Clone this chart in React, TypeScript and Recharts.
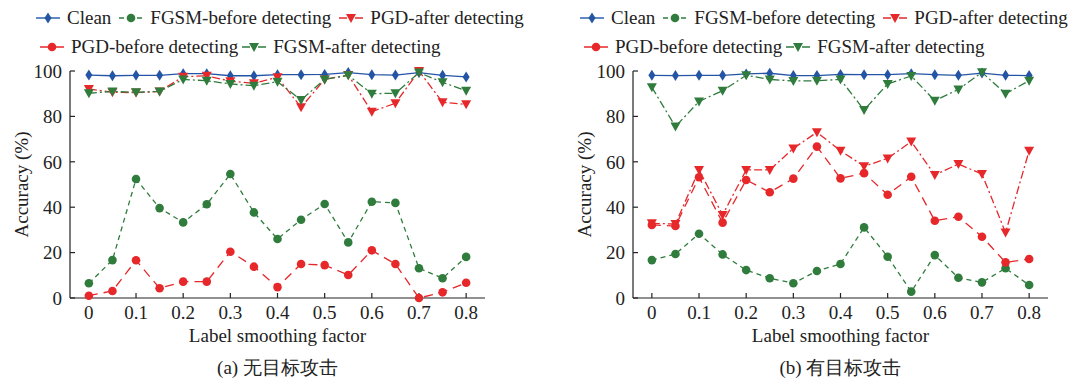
import React from "react";
import { Legend, Line, LineChart, XAxis, YAxis } from "recharts";

const factors = [0, 0.05, 0.1, 0.15, 0.2, 0.25, 0.3, 0.35, 0.4, 0.45, 0.5, 0.55, 0.6, 0.65, 0.7, 0.75, 0.8];
const xTicks = [0, 0.1, 0.2, 0.3, 0.4, 0.5, 0.6, 0.7, 0.8];
const yTicks = [0, 20, 40, 60, 80, 100];

// (a) untargeted attack
const cleanA = [98.2, 97.9, 98.1, 98.1, 98.8, 98.8, 97.9, 97.9, 98.4, 98.4, 98.5, 99.3, 98.4, 98.2, 99.3, 98.1, 97.4];
const fgsmBeforeA = [6.5, 16.7, 52.4, 39.6, 33.3, 41.3, 54.6, 37.7, 26.0, 34.5, 41.4, 24.5, 42.4, 41.9, 13.1, 8.7, 18.1];
const pgdAfterA = [92.1, 90.6, 90.5, 91.0, 97.5, 97.9, 95.5, 94.6, 97.2, 84.0, 96.3, 98.2, 82.1, 85.8, 100, 86.2, 85.3];
const pgdBeforeA = [1.0, 3.1, 16.6, 4.3, 7.2, 7.2, 20.4, 13.8, 4.8, 15.0, 14.5, 10.1, 21.0, 15.0, 0.0, 2.5, 6.7];
const fgsmAfterA = [90.2, 91.0, 90.6, 91.0, 96.3, 95.7, 94.3, 93.5, 95.3, 87.2, 96.3, 98.1, 90.0, 90.2, 99.3, 95.0, 91.3];

// (b) targeted attack
const cleanB = [98.1, 98.0, 98.1, 98.1, 98.7, 99.0, 98.0, 98.0, 98.5, 98.4, 98.4, 98.8, 98.4, 98.1, 99.1, 98.1, 98.0];
const fgsmBeforeB = [16.7, 19.4, 28.3, 19.2, 12.3, 8.7, 6.5, 11.9, 15.0, 31.1, 18.2, 2.8, 18.9, 8.9, 6.9, 13.1, 5.7];
const pgdAfterB = [32.9, 32.6, 56.4, 36.6, 56.4, 56.4, 65.9, 73.0, 64.9, 58.0, 61.5, 68.9, 54.2, 59.0, 54.6, 28.8, 64.9];
const pgdBeforeB = [32.2, 31.7, 53.2, 33.2, 52.0, 46.6, 52.6, 66.7, 52.7, 55.0, 45.5, 53.4, 34.0, 35.8, 27.0, 15.7, 17.2];
const fgsmAfterB = [92.8, 75.5, 86.6, 91.3, 98.1, 96.3, 95.6, 95.7, 96.3, 82.8, 94.3, 97.8, 86.9, 91.9, 99.4, 90.0, 95.7];

const BLUE = "#2455a5";
const GREEN = "#2f7c3d";
const RED = "#e6282b";
const INK = "#222";
const FONT = "'Liberation Serif', 'DejaVu Serif', 'Noto Serif', serif";

const series = [
  { key: "clean", name: "Clean", color: BLUE, dash: undefined, shape: "diamond" },
  { key: "fgsmBefore", name: "FGSM-before detecting", color: GREEN, dash: "5 4", shape: "circle" },
  { key: "pgdAfter", name: "PGD-after detecting", color: RED, dash: "8 3 2 3", shape: "triangle" },
  { key: "pgdBefore", name: "PGD-before detecting", color: RED, dash: "9 6", shape: "circle" },
  { key: "fgsmAfter", name: "FGSM-after detecting", color: GREEN, dash: "8 3 2 3", shape: "triangle" },
];

const legendRows = [
  ["clean", "fgsmBefore", "pgdAfter"],
  ["pgdBefore", "fgsmAfter"],
];

function Marker({ shape, cx, cy, color }: any) {
  if (cx == null || cy == null) return null;
  if (shape === "circle") return <circle cx={cx} cy={cy} r={4.3} fill={color} />;
  if (shape === "triangle")
    return <path d={`M${cx - 5},${cy - 4}L${cx + 5},${cy - 4}L${cx},${cy + 5}Z`} fill={color} />;
  return <path d={`M${cx},${cy - 5.5}L${cx + 3.5},${cy}L${cx},${cy + 5.5}L${cx - 3.5},${cy}Z`} fill={color} />;
}

function LegendIcon({ s }: any) {
  return (
    <svg width={24} height={14} style={{ marginRight: 7, flex: "none" }}>
      <line x1={0} y1={7} x2={24} y2={7} stroke={s.color} strokeWidth={1.4} strokeDasharray={s.dash} />
      <Marker shape={s.shape} cx={12} cy={7} color={s.color} />
    </svg>
  );
}

function renderLegend(props: any) {
  const payload = props.payload || [];
  return (
    <div style={{ fontFamily: FONT, fontSize: 19, color: INK, lineHeight: "22px" }}>
      {legendRows.map((row, r) => (
        <div key={r} style={{ display: "flex", alignItems: "center", gap: r === 0 ? 8 : 4, marginTop: r === 0 ? 0 : 7, paddingLeft: r === 0 ? 0 : 4 }}>
          {row.map((k) => {
            const s = series.find((x) => x.key === k)!;
            const entry = payload.find((p: any) => p.dataKey === k);
            return (
              <div key={k} style={{ display: "flex", alignItems: "center", whiteSpace: "nowrap" }}>
                <LegendIcon s={s} />
                <span>{entry ? entry.value : s.name}</span>
              </div>
            );
          })}
        </div>
      ))}
    </div>
  );
}

const tickStyle = { fill: INK, fontSize: 19, fontFamily: FONT };
const axisStroke = { stroke: INK, strokeWidth: 1.2 };

function Panel({ left, legendLeft, caption, values }: any) {
  const data = factors.map((f, i) => {
    const row: any = { f };
    series.forEach((s) => {
      row[s.key] = values[s.key][i];
    });
    return row;
  });

  return (
    <div style={{ position: "absolute", left, top: 0, width: 527, height: 381 }}>
      <LineChart width={527} height={381} data={data} margin={{ top: 71, right: 42, bottom: 53, left: 0 }}>
        <XAxis
          dataKey="f"
          type="number"
          domain={[-0.04, 0.84]}
          ticks={xTicks}
          allowDataOverflow
          height={30}
          tickSize={-5}
          tickMargin={13}
          tick={tickStyle}
          axisLine={axisStroke}
          tickLine={axisStroke}
          label={{ value: "Label smoothing factor", position: "bottom", offset: 1, fill: INK, fontSize: 19, fontFamily: FONT }}
        />
        <XAxis xAxisId="top" orientation="top" dataKey="f" type="number" domain={[-0.04, 0.84]} height={0} tick={false} tickLine={false} axisLine={axisStroke} />
        <YAxis
          type="number"
          domain={[0, 100]}
          ticks={yTicks}
          width={70}
          tickSize={-5}
          tickMargin={13}
          tick={tickStyle}
          axisLine={axisStroke}
          tickLine={axisStroke}
          label={{ value: "Accuracy (%)", angle: -90, position: "insideLeft", offset: 21, fill: INK, fontSize: 19, fontFamily: FONT, style: { textAnchor: "middle" } }}
        />
        <YAxis yAxisId="right" orientation="right" type="number" domain={[0, 100]} width={0} tick={false} tickLine={false} axisLine={axisStroke} />
        <Legend
          layout="horizontal"
          verticalAlign="middle"
          align="center"
          content={renderLegend}
          wrapperStyle={{ top: 7, left: legendLeft, width: 520, height: 60 }}
        />
        {series.map((s) => (
          <Line
            key={s.key}
            dataKey={s.key}
            name={s.name}
            stroke={s.color}
            strokeWidth={1.3}
            strokeDasharray={s.dash}
            isAnimationActive={false}
            dot={(p: any) => (
              <g key={`${s.key}-${p.index}`}>
                <Marker shape={s.shape} cx={p.cx} cy={p.cy} color={s.color} />
              </g>
            )}
            activeDot={false}
          />
        ))}
      </LineChart>
      <div
        style={{
          position: "absolute",
          left: 70,
          width: 415,
          top: 356,
          textAlign: "center",
          fontFamily: FONT,
          fontSize: 19,
          lineHeight: "23px",
          color: INK,
        }}
      >
        {caption}
      </div>
    </div>
  );
}

export default function App() {
  const a = { clean: cleanA, fgsmBefore: fgsmBeforeA, pgdAfter: pgdAfterA, pgdBefore: pgdBeforeA, fgsmAfter: fgsmAfterA };
  const b = { clean: cleanB, fgsmBefore: fgsmBeforeB, pgdAfter: pgdAfterB, pgdBefore: pgdBeforeB, fgsmAfter: fgsmAfterB };
  return (
    <div style={{ position: "absolute", left: 0, top: 0, width: 1090, height: 381, background: "#fff", overflow: "hidden" }}>
      <Panel left={0} legendLeft={36} caption="(a) 无目标攻击" values={a} />
      <Panel left={563} legendLeft={17} caption="(b) 有目标攻击" values={b} />
    </div>
  );
}
